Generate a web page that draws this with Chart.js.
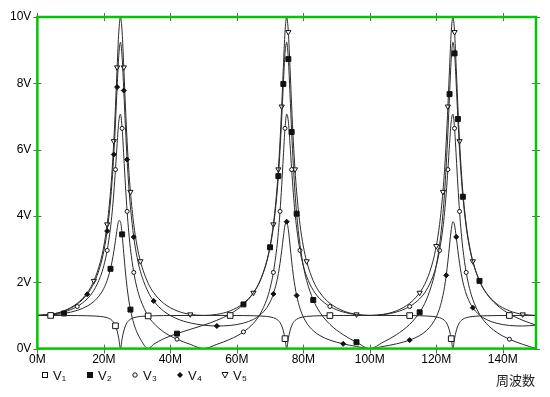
<!DOCTYPE html>
<html>
<head>
<meta charset="utf-8">
<script src="https://cdn.jsdelivr.net/npm/chart.js@4"></script>
<style>
  body { margin: 0; background: #fff; }
  #wrap { position: relative; width: 550px; height: 397px; }
  #xlabel { position: absolute; right: 15px; top: 370px; font: 13px "Noto Sans CJK JP", sans-serif; color: #222; }
  #legend { position: absolute; left: 41px; top: 366px; display: flex; font: 13px "Liberation Sans", Arial, sans-serif; color: #111; }
  #legend .item { width: 45px; display: flex; align-items: center; height: 18px; }
  #legend svg { margin-right: 4px; }
</style>
</head>
<body>
<div id="wrap">
  <canvas id="chart" width="550" height="397"></canvas>
  <div id="legend"></div>
  <div id="xlabel">周波数</div>
</div>
<script>
// ----- Data -----
const freq = [0, 4, 8, 12, 15, 17, 19, 20, 21, 22, 22.5, 23, 23.5, 24, 24.5, 25, 25.5, 26, 26.5, 27, 27.5, 28, 29, 30, 31, 33.33, 35, 38, 42, 46, 50,
  54, 58, 62, 65, 67, 69, 70, 71, 72, 72.5, 73, 73.5, 74, 74.5, 75, 75.5, 76, 76.5, 77, 77.5, 78, 79, 80, 81, 83, 85, 88, 92, 96, 100,
  104, 108, 112, 115, 117, 119, 120, 121, 122, 122.5, 123, 123.5, 124, 124.5, 125, 125.5, 126, 126.5, 127, 127.5, 128, 129, 130, 131, 133, 135, 138, 142, 146, 150];

const v1 = [1.000, 1.000, 0.998, 0.996, 0.991, 0.984, 0.970, 0.956, 0.932, 0.886, 0.846, 0.784, 0.687, 0.533, 0.300, 0, 0.300, 0.533, 0.687, 0.784, 0.846, 0.886, 0.932, 0.956, 0.970, 0.985, 0.991, 0.996, 0.998, 1.000, 1.000,
  1.000, 0.998, 0.996, 0.991, 0.984, 0.970, 0.956, 0.932, 0.886, 0.846, 0.784, 0.687, 0.533, 0.300, 0, 0.300, 0.533, 0.687, 0.784, 0.846, 0.886, 0.932, 0.956, 0.970, 0.984, 0.991, 0.996, 0.998, 1.000, 1.000,
  1.000, 0.998, 0.996, 0.991, 0.984, 0.970, 0.956, 0.932, 0.886, 0.846, 0.784, 0.687, 0.533, 0.300, 0, 0.300, 0.533, 0.687, 0.784, 0.846, 0.886, 0.932, 0.956, 0.970, 0.984, 0.991, 0.996, 0.998, 1.000, 1.000];

const v2 = [1.000, 1.014, 1.059, 1.153, 1.281, 1.421, 1.647, 1.818, 2.057, 2.406, 2.641, 2.927, 3.263, 3.611, 3.859, 3.827, 3.445, 2.873, 2.310, 1.839, 1.467, 1.176, 0.760, 0.484, 0.289, 0.000, 0.132, 0.298, 0.452, 0.580, 0.707,
  0.854, 1.045, 1.333, 1.680, 2.042, 2.618, 3.055, 3.669, 4.579, 5.202, 5.979, 6.925, 7.980, 8.902, 9.239, 8.730, 7.674, 6.530, 5.529, 4.716, 4.069, 3.132, 2.502, 2.056, 1.466, 1.094, 0.732, 0.419, 0.193, 0.000,
  0.193, 0.419, 0.732, 1.094, 1.466, 2.056, 2.502, 3.132, 4.069, 4.716, 5.529, 6.530, 7.674, 8.730, 9.239, 8.902, 7.980, 6.925, 5.979, 5.202, 4.579, 3.669, 3.055, 2.618, 2.042, 1.680, 1.333, 1.045, 0.854, 0.707];

const v3 = [1.000, 1.024, 1.103, 1.270, 1.501, 1.758, 2.179, 2.502, 2.961, 3.642, 4.110, 4.693, 5.399, 6.183, 6.854, 7.071, 6.642, 5.805, 4.913, 4.137, 3.510, 3.013, 2.297, 1.818, 1.481, 0.986, 0.765, 0.503, 0.283, 0.129, 0.000,
  0.129, 0.283, 0.503, 0.765, 1.039, 1.481, 1.818, 2.297, 3.013, 3.510, 4.137, 4.913, 5.805, 6.642, 7.071, 6.854, 6.183, 5.399, 4.693, 4.110, 3.642, 2.961, 2.502, 2.179, 1.758, 1.501, 1.270, 1.103, 1.024, 1.000,
  1.024, 1.103, 1.270, 1.501, 1.758, 2.179, 2.502, 2.961, 3.642, 4.110, 4.693, 5.399, 6.183, 6.854, 7.071, 6.642, 5.805, 4.913, 4.137, 3.510, 3.013, 2.297, 1.818, 1.481, 1.039, 0.765, 0.503, 0.283, 0.129, 0.000];

const v4 = [1.000, 1.030, 1.130, 1.342, 1.639, 1.970, 2.518, 2.942, 3.545, 4.448, 5.071, 5.852, 6.808, 7.886, 8.847, 9.239, 8.789, 7.784, 6.677, 5.702, 4.908, 4.277, 3.365, 2.756, 2.328, 1.707, 1.437, 1.130, 0.900, 0.774, 0.707,
  0.682, 0.698, 0.768, 0.880, 1.012, 1.232, 1.404, 1.648, 2.013, 2.263, 2.574, 2.951, 3.368, 3.722, 3.827, 3.583, 3.122, 2.634, 2.211, 1.871, 1.601, 1.214, 0.956, 0.774, 0.539, 0.393, 0.256, 0.143, 0.065, 0.000,
  0.065, 0.143, 0.256, 0.393, 0.539, 0.774, 0.956, 1.214, 1.601, 1.871, 2.211, 2.634, 3.122, 3.583, 3.827, 3.722, 3.368, 2.951, 2.574, 2.263, 2.013, 1.648, 1.404, 1.232, 1.012, 0.880, 0.768, 0.698, 0.682, 0.707];

const v5 = [1.000, 1.032, 1.139, 1.366, 1.685, 2.042, 2.634, 3.093, 3.747, 4.727, 5.405, 6.256, 7.300, 8.481, 9.545, 10.000, 9.545, 8.481, 7.300, 6.256, 5.405, 4.727, 3.747, 3.093, 2.634, 1.971, 1.685, 1.366, 1.139, 1.032, 1.000,
  1.032, 1.139, 1.366, 1.685, 2.042, 2.634, 3.093, 3.747, 4.727, 5.405, 6.256, 7.300, 8.481, 9.545, 10.000, 9.545, 8.481, 7.300, 6.256, 5.405, 4.727, 3.747, 3.093, 2.634, 2.042, 1.685, 1.366, 1.139, 1.032, 1.000,
  1.032, 1.139, 1.366, 1.685, 2.042, 2.634, 3.093, 3.747, 4.727, 5.405, 6.256, 7.300, 8.481, 9.545, 10.000, 9.545, 8.481, 7.300, 6.256, 5.405, 4.727, 3.747, 3.093, 2.634, 2.042, 1.685, 1.366, 1.139, 1.032, 1.000];

// frequencies where a marker symbol sits on each curve
const mark1 = [4, 23.5, 33.33, 58, 74.5, 88, 112, 124.5, 142];
const mark2 = [8, 22, 25.5, 28, 42, 62, 70, 72.5, 74, 75.5, 76.5, 78, 83, 96, 115, 124, 125.5, 126.5, 128, 133];
const mark3 = [12, 21, 23.5, 25.5, 27, 29, 42, 62, 71, 73, 74.5, 76.5, 79, 88, 112, 121, 123.5, 125.5, 127, 129, 142];
const mark4 = [15, 21, 23, 24, 26, 27, 29, 35, 54, 71, 75, 78, 92, 112, 123, 126, 131];
const mark5 = [17, 21, 23, 24, 26, 28, 31, 46, 65, 71, 72.5, 73.5, 75.5, 77.5, 81, 96, 115, 120, 122, 123.5, 125.5, 127, 131, 146];

const seriesNames = ['V₁', 'V₂', 'V₃', 'V₄', 'V₅'];
const xTicks = [0, 20, 40, 60, 80, 100, 120, 140];
const yTicks = [0, 2, 4, 6, 8, 10];

// ----- Chart -----
Chart.defaults.font.family = '"Liberation Sans", Arial, sans-serif';
Chart.defaults.font.size = 12;
Chart.defaults.color = '#000';

function makeSet(label, values, marks, style, fill, radius, rotation) {
  return {
    label: label,
    data: freq.map((f, i) => ({ x: f, y: values[i] })),
    borderColor: '#2a2a2a',
    borderWidth: 1,
    cubicInterpolationMode: 'monotone',
    pointStyle: style,
    pointRotation: rotation || 0,
    pointBackgroundColor: fill,
    pointBorderColor: '#111',
    pointBorderWidth: 1,
    pointRadius: ctx => (ctx.raw && marks.includes(ctx.raw.x)) ? radius : 0,
    pointHoverRadius: 0
  };
}

// green frame plus the small cross ticks on all four sides
const framePlugin = {
  id: 'frame',
  afterDatasetsDraw(chart) {
    const { ctx, chartArea: a, scales } = chart;
    ctx.save();
    ctx.strokeStyle = '#666';
    ctx.lineWidth = 1;
    ctx.beginPath();
    xTicks.forEach(v => {
      const px = Math.round(scales.x.getPixelForValue(v)) + 0.5;
      ctx.moveTo(px, a.bottom - 4); ctx.lineTo(px, a.bottom + 5);
      ctx.moveTo(px, a.top - 4); ctx.lineTo(px, a.top + 4);
    });
    yTicks.forEach(v => {
      const py = Math.round(scales.y.getPixelForValue(v)) + 0.5;
      ctx.moveTo(a.left - 4, py); ctx.lineTo(a.left + 4, py);
      ctx.moveTo(a.right - 4, py); ctx.lineTo(a.right + 4, py);
    });
    ctx.stroke();
    ctx.strokeStyle = '#00c800';
    ctx.lineWidth = 2.5;
    ctx.strokeRect(a.left, a.top, a.width, a.height);
    ctx.restore();
  }
};

const chart = new Chart(document.getElementById('chart'), {
  type: 'line',
  data: {
    datasets: [
      makeSet(seriesNames[0], v1, mark1, 'rect', '#fff', 4),
      makeSet(seriesNames[1], v2, mark2, 'rect', '#111', 3.5),
      makeSet(seriesNames[2], v3, mark3, 'circle', '#fff', 2),
      makeSet(seriesNames[3], v4, mark4, 'rectRot', '#111', 2.5),
      makeSet(seriesNames[4], v5, mark5, 'triangle', '#fff', 3, 180)
    ]
  },
  options: {
    responsive: false,
    animation: false,
    layout: { padding: { left: 4, right: 14, top: 17, bottom: 26 } },
    plugins: {
      tooltip: { enabled: false },
      legend: { display: false }
    },
    scales: {
      x: {
        type: 'linear',
        min: 0,
        max: 150,
        afterBuildTicks: s => { s.ticks = xTicks.map(v => ({ value: v })); },
        ticks: { callback: v => v + 'M', padding: 4, maxRotation: 0 },
        grid: { display: false, drawTicks: false },
        border: { display: false }
      },
      y: {
        min: 0,
        max: 10,
        afterBuildTicks: s => { s.ticks = yTicks.map(v => ({ value: v })); },
        ticks: { callback: v => v + 'V', padding: 6 },
        grid: { display: false, drawTicks: false },
        border: { display: false }
      }
    }
  },
  plugins: [framePlugin]
});

// ----- Legend (HTML, one item per dataset) -----
const legendSymbols = [
  '<rect x="1.5" y="1.5" width="5" height="5" fill="#fff" stroke="#111"/>',
  '<rect x="1.5" y="1.5" width="5" height="5" fill="#111" stroke="#111"/>',
  '<circle cx="4" cy="4" r="2.2" fill="#fff" stroke="#111"/>',
  '<polygon points="4,1 7,4 4,7 1,4" fill="#111"/>',
  '<polygon points="1,1.5 7,1.5 4,7" fill="#fff" stroke="#111"/>'
];
document.getElementById('legend').innerHTML = chart.data.datasets.map((ds, i) =>
  `<div class="item"><svg width="8" height="8">${legendSymbols[i]}</svg><span>${ds.label}</span></div>`
).join('');
</script>
</body>
</html>
